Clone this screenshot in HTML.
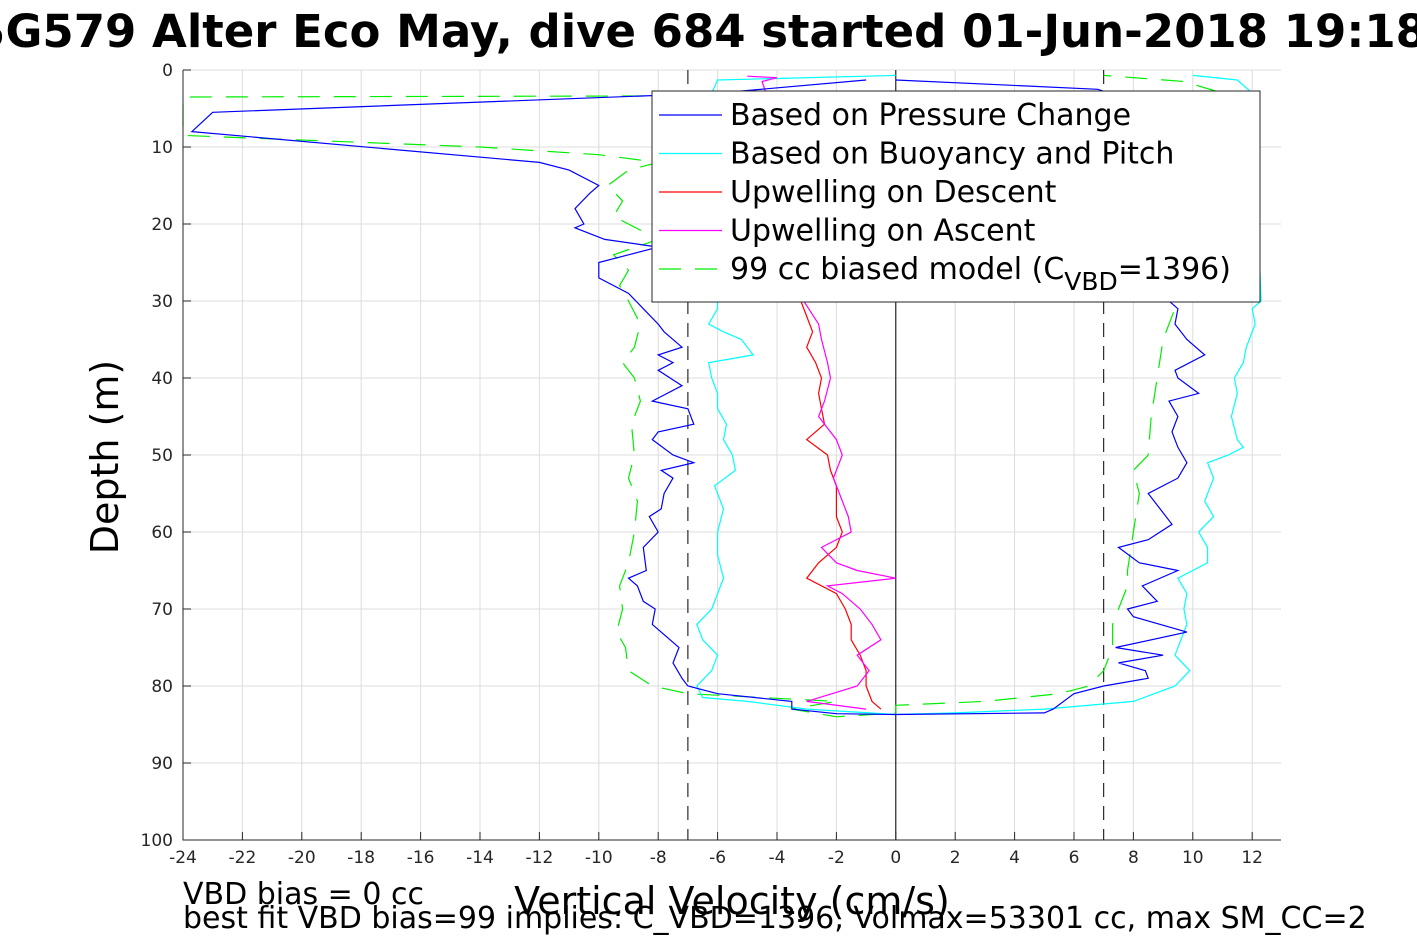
<!DOCTYPE html>
<html><head><meta charset="utf-8"><style>
html,body{margin:0;padding:0;background:#fff;width:1417px;height:945px;overflow:hidden}
svg{display:block;font-family:"DejaVu Sans","Liberation Sans",sans-serif}
</style></head><body>
<svg id="chart" width="1417" height="945" viewBox="0 0 1417 945" xmlns="http://www.w3.org/2000/svg">
<text x="700" y="47" text-anchor="middle" font-size="45" font-weight="bold">SG579 Alter Eco May, dive 684 started 01-Jun-2018 19:18</text>
<g id="grid"></g>
<g id="series"></g>
<g id="axes"></g>
<text transform="translate(118,457) rotate(-90)" text-anchor="middle" font-size="38">Depth (m)</text>
<text x="732" y="914" text-anchor="middle" font-size="38">Vertical Velocity (cm/s)</text>
<text x="183" y="904" font-size="30">VBD bias = 0 cc</text>
<text x="183" y="928" font-size="30">best fit VBD bias=99 implies: C_VBD=1396, Volmax=53301 cc, max SM_CC=2</text>
<g id="legend"></g>
</svg>
<script>
const xTicks = [-24,-22,-20,-18,-16,-14,-12,-10,-8,-6,-4,-2,0,2,4,6,8,10,12];
const yTicks = [0,10,20,30,40,50,60,70,80,90,100];
const refLines = [-7,7];

const pressDepth = [1.3,3,5.5,8,12,13,15,16,18,20,20.5,22,23,24,25,27,29,31,33,34,36,37,38,39,41,43,44,46,47,48,50,51,52,53,55,57,58,60,62,65,66,67,69,70,72,74,75,77,79,80,81,82,83,83.6,83.7,83.5,83,81,80,79,78,77,76,75,73,71,70,69,67,65,64,62,61,59,57,55,53,51,49,47,45,43,42,40,39,37,35,33,31,30,20,10,3,2.5,1.3];
const pressVel = [-1,-6,-23,-23.7,-12,-11,-10,-10.3,-10.8,-10.5,-10.8,-9.8,-8,-9,-10,-10,-9,-8.5,-8,-7.8,-7.2,-8,-7.5,-8,-7.2,-8.2,-7,-6.8,-8,-8.2,-7.5,-6.8,-7.9,-7.5,-7.8,-7.9,-8.3,-8,-8.5,-8.4,-9,-8.7,-8.5,-8.1,-8.2,-7.6,-7.3,-7.5,-7.2,-7,-6,-3.5,-3.5,-2,0,5,5.3,6,7,8.5,8.4,7.5,9,7.4,9.8,8,7.8,8.8,8.3,9.5,8.2,7.5,8.5,9.3,8.9,8.5,9.5,9.8,9.5,9.3,9.5,9.2,10.2,9.5,9.4,10.4,9.8,9.4,9.5,9.2,9,8.5,7.2,6.8,0];

const buoyDepth = [0.7,1.3,3,10,20,30,31,33,34,35,37,38,40,42,44,46,48,50,52,54,57,60,63,66,68,70,72,74,76,78,80,81.5,82,83,83.7,83.5,83,82,80,78,76,74,72,70,68,66,64,62,60,58,56,53,51,50,49,48,45,42,40,38,36,33,31,30,20,10,3,1.3,0.7];
const buoyVel = [0,-6,-6.2,-5.5,-5.8,-6,-6,-6.3,-5.8,-5.2,-4.8,-6.3,-6.2,-6,-6,-5.7,-5.8,-5.5,-5.4,-6.1,-5.8,-6,-6,-5.8,-6,-6.2,-6.7,-6.5,-6,-6.2,-6.7,-6.5,-5,-3,0,2,5,8,9.4,9.9,9.4,9.6,9.8,9.7,9.8,9.5,10.5,10.5,10.2,10.7,10.4,10.7,10.5,11.2,11.7,11.5,11.3,11.5,11.4,11.7,11.8,12.1,12,12.3,12.2,12.1,12,11.5,10];

const descUpDepth = [28,30,32,34,36,38,40,42,44,46,48,50,52,54,56,58,60,62,64,66,68,70,72,74,76,78,80,82,83];
const descUpVel = [-3,-3.2,-3,-2.8,-3,-2.7,-2.5,-2.6,-2.5,-2.4,-3,-2.3,-2.2,-2,-2,-2,-1.8,-2,-2.6,-3,-2,-1.7,-1.5,-1.5,-1.2,-1,-1,-0.8,-0.5];

const ascUpDepth = [0.8,1,1.5,5,10,20,30,33,35,38,40,43,45,48,50,53,55,58,60,62,64,65,66,67,68,70,72,74,76,78,80,82,83];
const ascUpVel = [-5,-4,-4.5,-4.2,-3.8,-3.5,-3.1,-2.6,-2.5,-2.3,-2.2,-2.4,-2.6,-2,-1.8,-2.1,-1.9,-1.6,-1.5,-2.5,-2,-1.3,0,-2.3,-1.8,-1.2,-0.8,-0.5,-1.3,-0.9,-1.3,-3,-1];

const modelDepth = [3.3,3.5,8.5,10,11,12,13,15,17,19,22,24,26,28,30,33,36,38,40,43,46,50,53,56,60,64,67,70,73,75,78,80,81,82,83,84,83.5,82.5,82,81,80,78,75,72,70,67,65,60,55,52,50,45,40,35,30,20,10,3,1.5,0.7];
const modelVel = [0,-24,-24,-14,-10,-8,-9,-9.7,-9.2,-9.5,-8,-9.5,-9,-9.3,-9,-8.6,-8.8,-9.2,-8.8,-8.6,-8.9,-8.8,-9,-8.7,-8.8,-9,-9.3,-9.2,-9.4,-9.1,-9,-8.2,-7,-2,-3.5,-2,0,0,3,5.5,6.5,7,7.3,7.3,7.5,7.8,7.8,8,8.2,8,8.5,8.6,8.8,9,9.5,10,10.5,11,9.7,7];

const X0=183, X1=1281, Y0=70, Y1=840;
const xMin=-24, xMax=12.97, yMin=0, yMax=100;
const sx = v => X0 + (v-xMin)/(xMax-xMin)*(X1-X0);
const sy = d => Y0 + (d-yMin)/(yMax-yMin)*(Y1-Y0);
const NS="http://www.w3.org/2000/svg";
function mk(tag, attrs, parent){const e=document.createElementNS(NS,tag);for(const k in attrs)e.setAttribute(k,attrs[k]);parent.appendChild(e);return e;}

const grid=document.getElementById('grid');
xTicks.forEach(t=>{
  const l=mk('line',{x1:sx(t),x2:sx(t),y1:Y0,y2:Y1,stroke:'#dcdcdc','stroke-width':1},grid);
  
  
});
yTicks.forEach(t=>{
  const l=mk('line',{x1:X0,x2:X1,y1:sy(t),y2:sy(t),stroke:'#dcdcdc','stroke-width':1},grid);
  
  
});

const ser=document.getElementById('series');
refLines.forEach(r=>{
  const l=mk('line',{x1:sx(r),x2:sx(r),y1:Y0,y2:Y1,stroke:'#000','stroke-width':1,'stroke-dasharray':'14,9'},ser);
  
  
});
const zl=mk('line',{x1:sx(0),x2:sx(0),y1:Y0,y2:Y1,stroke:'#000','stroke-width':1},ser);



function series(depths, vels, color, name, dash){
  const pts=depths.map((d,i)=>sx(vels[i]).toFixed(1)+','+sy(d).toFixed(1)).join(' ');
  const a={points:pts,fill:'none',stroke:color,'stroke-width':1.2};
  if(dash)a['stroke-dasharray']=dash;
  const p=mk('polyline',a,ser);
  
  
}
series(modelDepth,modelVel,'#00ee00','model-line','22,14');
series(buoyDepth,buoyVel,'#00ffff','buoyancy-pitch-line');
series(descUpDepth,descUpVel,'#ff0000','upwelling-descent-line');
series(ascUpDepth,ascUpVel,'#ff00ff','upwelling-ascent-line');
series(pressDepth,pressVel,'#0000ff','pressure-change-line');

const ax=document.getElementById('axes');
const frame=mk('path',{d:`M${X0},${Y0} V${Y1} H${X1}`,fill:'none',stroke:'#262626','stroke-width':1},ax);


xTicks.forEach(t=>{
  mk('line',{x1:sx(t),x2:sx(t),y1:Y1,y2:Y1-8,stroke:'#262626'},ax);
  const tx=mk('text',{x:sx(t),y:Y1+23,'text-anchor':'middle','font-size':17,fill:'#262626'},ax);
  tx.textContent=t;
  
  
});
yTicks.forEach(t=>{
  mk('line',{x1:X0,x2:X0+8,y1:sy(t),y2:sy(t),stroke:'#262626'},ax);
  const tx=mk('text',{x:X0-10,y:sy(t)+6,'text-anchor':'end','font-size':17,fill:'#262626'},ax);
  tx.textContent=t;
  
  
});

const lg=document.getElementById('legend');
const box=mk('rect',{x:652,y:91,width:608,height:211,fill:'#fff',stroke:'#262626','stroke-width':1},lg);


const legendItems=[['Based on Pressure Change','#0000ff',''],['Based on Buoyancy and Pitch','#00ffff',''],['Upwelling on Descent','#ff0000',''],['Upwelling on Ascent','#ff00ff',''],['99 cc biased model (C','#00ee00','22,14']];
legendItems.forEach((it,i)=>{
  const y=115+i*38.5;
  const a={x1:659,x2:722,y1:y,y2:y,stroke:it[1],'stroke-width':1.2};
  if(it[2])a['stroke-dasharray']=it[2];
  const l=mk('line',a,lg);
  
  
  const tx=mk('text',{x:730,y:y+10,'font-size':30},lg);
  
  
  if(i===4){
    tx.textContent=it[0];
    const s1=mk('tspan',{dy:11,'font-size':25},tx);s1.textContent='VBD';
    const s2=mk('tspan',{dy:-11},tx);s2.textContent='=1396)';
  } else tx.textContent=it[0];
});
</script>
</body></html>
